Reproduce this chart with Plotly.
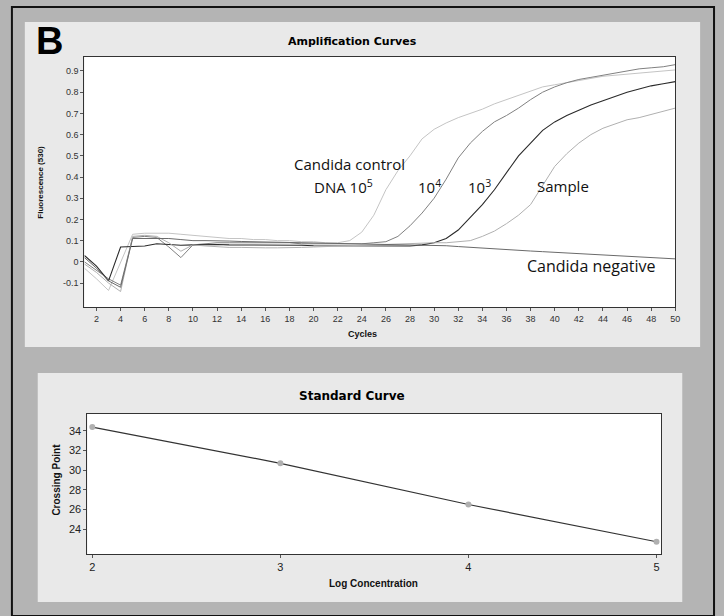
import plotly.graph_objects as go

cycles = list(range(1, 51))

ctrl_1e5 = [-0.03, -0.08, -0.135, 0.0, 0.13, 0.135, 0.135, 0.135, 0.13, 0.125,
            0.12, 0.115, 0.11, 0.11, 0.105, 0.105, 0.10, 0.10, 0.095, 0.095,
            0.09, 0.09, 0.10, 0.14, 0.22, 0.34, 0.43, 0.50, 0.58, 0.625,
            0.655, 0.68, 0.70, 0.72, 0.745, 0.765, 0.785, 0.805, 0.825, 0.835,
            0.845, 0.855, 0.865, 0.875, 0.88, 0.885, 0.89, 0.895, 0.90, 0.905]

ctrl_1e4 = [0.0, -0.04, -0.08, -0.11, 0.115, 0.12, 0.115, 0.07, 0.02, 0.08,
            0.085, 0.09, 0.09, 0.09, 0.09, 0.09, 0.09, 0.09, 0.085, 0.085,
            0.085, 0.085, 0.085, 0.085, 0.09, 0.095, 0.12, 0.17, 0.23, 0.30,
            0.39, 0.49, 0.56, 0.615, 0.66, 0.69, 0.725, 0.765, 0.80, 0.825,
            0.845, 0.86, 0.87, 0.88, 0.89, 0.90, 0.91, 0.915, 0.92, 0.93]

ctrl_1e3 = [0.03, -0.02, -0.09, 0.07, 0.072, 0.075, 0.085, 0.08, 0.078, 0.08,
            0.082, 0.082, 0.08, 0.08, 0.08, 0.08, 0.078, 0.078, 0.078, 0.076,
            0.076, 0.076, 0.075, 0.075, 0.075, 0.075, 0.075, 0.075, 0.08, 0.09,
            0.11, 0.15, 0.21, 0.27, 0.34, 0.42, 0.50, 0.56, 0.62, 0.66,
            0.69, 0.715, 0.74, 0.76, 0.78, 0.80, 0.815, 0.83, 0.84, 0.85]

sample = [-0.01, -0.05, -0.10, -0.14, 0.12, 0.125, 0.12, 0.09, 0.05, 0.08,
          0.075, 0.07, 0.068, 0.068, 0.066, 0.066, 0.066, 0.066, 0.068, 0.07,
          0.072, 0.075, 0.078, 0.08, 0.082, 0.085, 0.085, 0.088, 0.09, 0.09,
          0.09, 0.095, 0.10, 0.12, 0.145, 0.18, 0.22, 0.27, 0.36, 0.45,
          0.51, 0.56, 0.60, 0.63, 0.65, 0.67, 0.68, 0.695, 0.71, 0.725]

negative = [0.02, -0.03, -0.09, -0.12, 0.11, 0.11, 0.11, 0.11, 0.105, 0.10,
            0.10, 0.10, 0.098, 0.096, 0.095, 0.094, 0.093, 0.092, 0.09, 0.09,
            0.088, 0.087, 0.086, 0.085, 0.084, 0.083, 0.082, 0.081, 0.08, 0.08,
            0.076, 0.072, 0.068, 0.064, 0.06, 0.057, 0.054, 0.051, 0.048, 0.045,
            0.042, 0.04, 0.036, 0.033, 0.03, 0.027, 0.024, 0.02, 0.017, 0.014]

log_conc = [2, 3, 4, 5]
crossing_point = [34.4, 30.7, 26.5, 22.7]

amp_series = [
    ("10^5", ctrl_1e5, "#c4c4c4", 1.0),
    ("10^4", ctrl_1e4, "#808080", 1.0),
    ("10^3", ctrl_1e3, "#2a2a2a", 1.1),
    ("Sample", sample, "#b0b0b0", 1.0),
    ("Negative", negative, "#6a6a6a", 1.0),
]

fig = go.Figure()
for name, vals, col, w in amp_series:
    fig.add_trace(go.Scatter(x=cycles, y=vals, mode="lines", name=name,
                             line=dict(color=col, width=w), xaxis="x", yaxis="y",
                             showlegend=False))

fig.add_trace(go.Scatter(x=log_conc, y=crossing_point, mode="lines+markers",
                         line=dict(color="#333333", width=1.2),
                         marker=dict(color="#b0b0b0", size=6, symbol="circle"),
                         xaxis="x2", yaxis="y2", showlegend=False))

W, H = 724, 616
def px(x):
    return x / W
def py(y):
    return 1 - y / H

tickfont = dict(family="Liberation Sans, Arial", size=9, color="#333333")
shapes = [
    dict(type="rect", xref="paper", yref="paper", x0=px(12), x1=px(719), y0=py(616), y1=py(7),
         line=dict(color="#111111", width=2), fillcolor="#b4b4b4", layer="below"),
    dict(type="rect", xref="paper", yref="paper", x0=px(25), x1=px(705), y0=py(347), y1=py(22),
         line=dict(width=0), fillcolor="#e9e9e9", layer="below"),
    dict(type="rect", xref="paper", yref="paper", x0=px(38), x1=px(687), y0=py(602), y1=py(373),
         line=dict(width=0), fillcolor="#e9e9e9", layer="below"),
    dict(type="rect", xref="paper", yref="paper", x0=px(85), x1=px(680), y0=py(307), y1=py(57),
         line=dict(width=0), fillcolor="#ffffff", layer="below"),
    dict(type="rect", xref="paper", yref="paper", x0=px(88), x1=px(666), y0=py(554), y1=py(414),
         line=dict(width=0), fillcolor="#ffffff", layer="below"),
]

annfont = dict(family="Open Sans, Noto Sans", size=15, color="#111111")

def ann(text, x, y, font, **kw):
    d = dict(text=text, x=px(x), y=py(y), xref="paper", yref="paper",
             xanchor="center", yanchor="middle", showarrow=False, font=font)
    d.update(kw)
    return d

annotations = [
    ann("<b>B</b>", 50, 41, dict(family="Liberation Sans, Arial", size=38, color="#000000")),
    ann("<b>Amplification Curves</b>", 355, 41, dict(family="DejaVu Sans", size=11, color="#000000")),
    ann("<b>Fluorescence (530)</b>", 41, 182, dict(family="Liberation Sans, Arial", size=8, color="#111111"),
        textangle=-90),
    ann("<b>Cycles</b>", 365, 334, dict(family="Liberation Sans, Arial", size=9, color="#111111")),
    ann("Candida control", 352, 164, annfont),
    ann("DNA 10<sup>5</sup>", 346, 186, annfont),
    ann("10<sup>4</sup>", 432, 186, annfont),
    ann("10<sup>3</sup>", 483, 186, annfont),
    ann("Sample", 567, 186, annfont),
    ann("Candida negative", 596, 266, dict(family="Open Sans, Noto Sans", size=16, color="#111111")),
    ann("<b>Standard Curve</b>", 354, 396, dict(family="DejaVu Sans", size=12, color="#000000")),
    ann("<b>Crossing Point</b>", 56, 480, dict(family="Liberation Sans, Arial", size=10, color="#111111"),
        textangle=-90),
    ann("<b>Log Concentration</b>", 376, 583, dict(family="Liberation Sans, Arial", size=10, color="#111111")),
]

axis_common = dict(showgrid=False, zeroline=False, showline=True, linecolor="#333333",
                   linewidth=1, mirror=True, ticks="outside", ticklen=3, tickcolor="#555555",
                   tickfont=tickfont)
axis_b = {**axis_common, "tickfont": dict(family="Liberation Sans, Arial", size=11, color="#222222")}

fig.update_layout(
    width=W, height=H,
    margin=dict(l=0, r=0, t=0, b=0),
    paper_bgcolor="#b4b4b4",
    plot_bgcolor="#ffffff",
    shapes=shapes,
    annotations=annotations,
    xaxis=dict(domain=[px(85), px(680)], range=[1, 50], tickvals=list(range(2, 51, 2)),
               anchor="y", **axis_common),
    yaxis=dict(domain=[py(307), py(57)], range=[-0.213, 0.966],
               tickvals=[-0.1, 0, 0.1, 0.2, 0.3, 0.4, 0.5, 0.6, 0.7, 0.8, 0.9],
               ticktext=["-0.1", "0", "0.1", "0.2", "0.3", "0.4", "0.5", "0.6", "0.7", "0.8", "0.9"],
               anchor="x", **axis_common),
    xaxis2=dict(domain=[px(88), px(666)], range=[1.974, 5.026], tickvals=[2, 3, 4, 5],
                anchor="y2", **axis_b),
    yaxis2=dict(domain=[py(554), py(414)], range=[21.45, 35.73], tickvals=[24, 26, 28, 30, 32, 34],
                anchor="x2", **axis_b),
)

fig.write_html("out.html")
